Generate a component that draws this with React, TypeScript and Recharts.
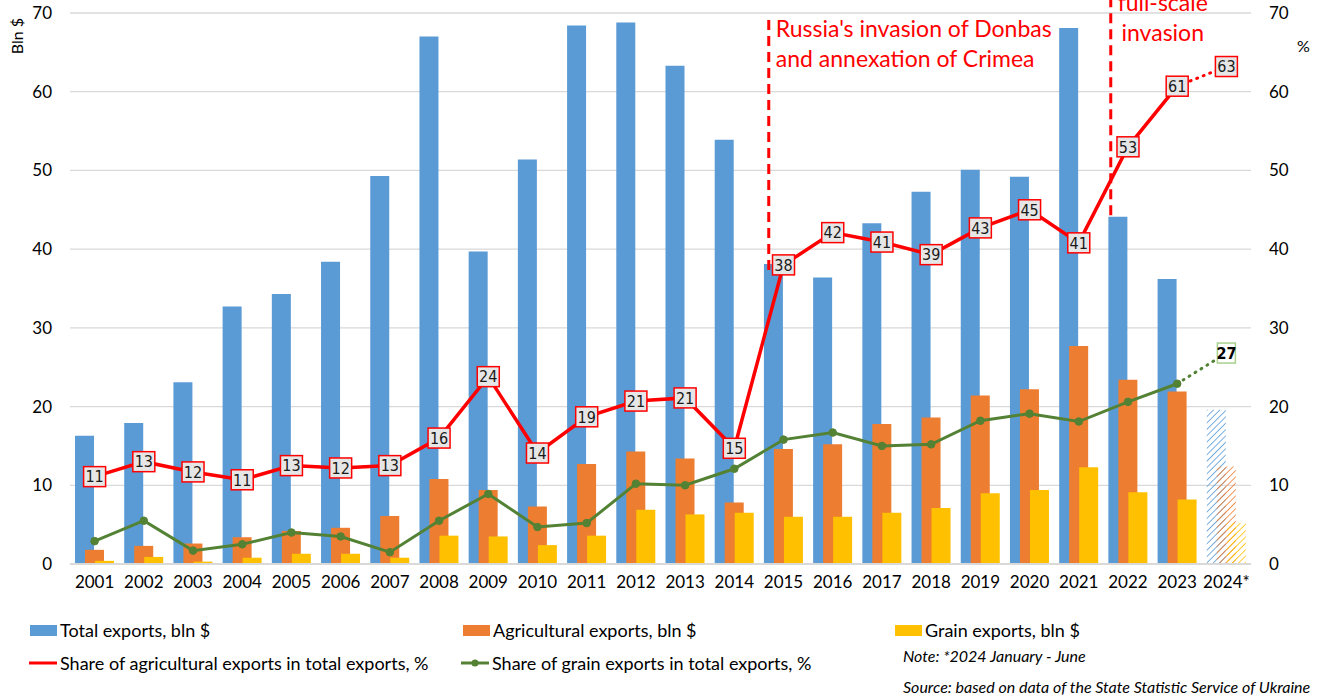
import React from "react";
import {
  Bar,
  CartesianGrid,
  Cell,
  ComposedChart,
  LabelList,
  Line,
  ReferenceLine,
  XAxis,
  YAxis,
} from "recharts";

const YEARS = [
  "2001", "2002", "2003", "2004", "2005", "2006", "2007", "2008", "2009", "2010", "2011", "2012",
  "2013", "2014", "2015", "2016", "2017", "2018", "2019", "2020", "2021", "2022", "2023", "2024*",
];
const TOTAL_EXPORTS = [
  16.3, 17.9, 23.1, 32.7, 34.3, 38.4, 49.3, 67.0, 39.7, 51.4, 68.4, 68.8,
  63.3, 53.9, 38.1, 36.4, 43.3, 47.3, 50.1, 49.2, 68.1, 44.1, 36.2, 19.6,
];
const AGRI_EXPORTS = [
  1.8, 2.3, 2.6, 3.4, 4.2, 4.6, 6.1, 10.8, 9.4, 7.3, 12.7, 14.3,
  13.4, 7.8, 14.6, 15.2, 17.8, 18.6, 21.4, 22.2, 27.7, 23.4, 21.9, 12.4,
];
const GRAIN_EXPORTS = [
  0.4, 0.9, 0.3, 0.8, 1.3, 1.3, 0.8, 3.6, 3.5, 2.4, 3.6, 6.9,
  6.3, 6.5, 6.0, 6.0, 6.5, 7.1, 9.0, 9.4, 12.3, 9.1, 8.2, 5.2,
];
const AGRI_SHARE = [
  11.1, 13.0, 11.7, 10.7, 12.5, 12.2, 12.5, 16.0, 23.8, 14.1, 18.7, 20.7,
  21.1, 14.7, 38.0, 42.1, 40.9, 39.3, 42.7, 45.0, 40.8, 53.0, 60.7, 63.2,
];
const GRAIN_SHARE = [
  2.9, 5.5, 1.7, 2.5, 4.0, 3.5, 1.5, 5.5, 8.9, 4.7, 5.2, 10.2,
  10.0, 12.1, 15.8, 16.7, 15.0, 15.2, 18.2, 19.1, 18.1, 20.6, 22.9, 26.8,
];
const Y_TICKS = [0, 10, 20, 30, 40, 50, 60, 70];

// event markers: position in category units from the left edge, line span in Bln $
const EVENT_POS = [14.2, 21.15];
const EVENT_SPAN = [
  [69.1, 37.0],
  [72.0, 44.3],
];
const EVENT_TEXT = [
  ["Russia's invasion of Donbas", "and annexation of Crimea"],
  ["full-scale", "invasion"],
];

const FONT = "Lato, 'Open Sans', sans-serif";
const NARROW = "'Liberation Sans Narrow', 'DejaVu Sans Condensed', 'Roboto Condensed', sans-serif";

const BLUE = "#5b9bd5";
const ORANGE = "#ed7d31";
const YELLOW = "#ffc000";
const RED = "#ff0000";
const GREEN = "#548235";

const last = YEARS.length - 1;

const data = YEARS.map((year, i) => ({
  year,
  slot: i + 0.5,
  total: TOTAL_EXPORTS[i],
  agri: AGRI_EXPORTS[i],
  grain: GRAIN_EXPORTS[i],
  agriShare: i < last ? AGRI_SHARE[i] : null,
  agriShareEst: i >= last - 1 ? AGRI_SHARE[i] : null,
  grainShare: i < last ? GRAIN_SHARE[i] : null,
  grainShareEst: i >= last - 1 ? GRAIN_SHARE[i] : null,
}));

function RedBox(props: any) {
  const { x, y, value } = props;
  if (value == null || x == null) return null;
  return (
    <g>
      <rect x={x - 11} y={y - 10} width={22} height={20} fill="#e7e6e6" stroke={RED} strokeWidth={1.5} />
      <text
        x={x}
        y={y}
        dy="0.36em"
        textAnchor="middle"
        fontFamily={NARROW}
        fontSize={16}
        fill="#1a1a1a"
      >
        {Math.round(value)}
      </text>
    </g>
  );
}

function RedBoxEst(props: any) {
  if (props.index !== last) return null;
  return <RedBox {...props} />;
}

function GreenBoxEst(props: any) {
  const { x, y, value, index } = props;
  if (index !== last || value == null) return null;
  return (
    <g>
      <rect x={x - 9} y={y - 10} width={18} height={20} fill="#fff" stroke="#a9d18e" strokeWidth={1.5} />
      <text
        x={x}
        y={y}
        dy="0.36em"
        textAnchor="middle"
        fontFamily={NARROW}
        fontSize={16}
        fontWeight="bold"
        fill="#000"
      >
        {Math.round(value)}
      </text>
    </g>
  );
}

function eventLabel(i: number) {
  return (props: any) => {
    const vb = props.viewBox || {};
    const lines = EVENT_TEXT[i];
    const first = i === 0;
    const tx = first ? vb.x + 7 : vb.x + 52;
    return (
      <text
        x={tx}
        y={first ? 37 : 11}
        textAnchor={first ? "start" : "middle"}
        fontFamily={FONT}
        fontSize={23}
        fill={RED}
      >
        {lines.map((t, k) => (
          <tspan key={k} x={tx} dy={k === 0 ? 0 : 29.5}>
            {t}
          </tspan>
        ))}
      </text>
    );
  };
}

const tickStyle = { fontSize: 17, fill: "#000", fontFamily: FONT };

function LegendSwatch({ color, w = 27 }: { color: string; w?: number }) {
  return <span style={{ display: "inline-block", width: w, height: 11, background: color, marginRight: 3 }} />;
}

function LegendLine({ color, dot }: { color: string; dot?: boolean }) {
  return (
    <svg width={28} height={10} style={{ marginRight: 3 }}>
      <line x1={0} y1={5} x2={28} y2={5} stroke={color} strokeWidth={3} />
      {dot && <circle cx={14} cy={5} r={3.5} fill={color} />}
    </svg>
  );
}

const legendItem: React.CSSProperties = {
  position: "absolute",
  display: "flex",
  alignItems: "center",
  fontFamily: FONT,
  fontSize: 18,
  color: "#000",
  whiteSpace: "nowrap",
};

export default function App() {
  return (
    <div style={{ position: "relative", width: 1325, height: 700, background: "#fff", overflow: "hidden" }}>
      <style>{"body{margin:0}"}</style>
      <ComposedChart
        width={1325}
        height={700}
        data={data}
        margin={{ top: 13, right: 0, bottom: 106, left: 0 }}
        barSize={19}
        barGap={-9}
      >
        <defs>
          <pattern id="hatchBlue" width="4.5" height="4.5" patternUnits="userSpaceOnUse" patternTransform="rotate(45)">
            <line x1="0" y1="0" x2="0" y2="4.5" stroke={BLUE} strokeWidth="1.6" />
          </pattern>
          <pattern id="hatchOrange" width="4.5" height="4.5" patternUnits="userSpaceOnUse" patternTransform="rotate(45)">
            <line x1="0" y1="0" x2="0" y2="4.5" stroke={ORANGE} strokeWidth="1.6" />
          </pattern>
          <pattern id="hatchYellow" width="4.5" height="4.5" patternUnits="userSpaceOnUse" patternTransform="rotate(45)">
            <line x1="0" y1="0" x2="0" y2="4.5" stroke={YELLOW} strokeWidth="1.6" />
          </pattern>
        </defs>
        <CartesianGrid yAxisId="left" stroke="#d9d9d9" strokeWidth={1.3} vertical={false} />
        <XAxis
          dataKey="year"
          height={30}
          tick={tickStyle}
          tickLine={false}
          axisLine={{ stroke: "#d9d9d9", strokeWidth: 2 }}
          interval={0}
          tickMargin={6}
        />
        <XAxis xAxisId="pos" dataKey="slot" type="number" domain={[0, 24]} hide allowDataOverflow />
        <YAxis
          yAxisId="left"
          width={70}
          domain={[0, 70]}
          ticks={Y_TICKS}
          tick={tickStyle}
          tickLine={false}
          axisLine={false}
          tickMargin={12}
        />
        <YAxis
          yAxisId="right"
          orientation="right"
          width={74}
          domain={[0, 70]}
          ticks={Y_TICKS}
          tick={{ ...tickStyle, textAnchor: "start" }}
          tickLine={false}
          axisLine={false}
          tickMargin={12}
        />
        <Bar yAxisId="left" dataKey="total" fill={BLUE} isAnimationActive={false}>
          {data.map((d, i) => (
            <Cell key={d.year} fill={i === last ? "url(#hatchBlue)" : BLUE} />
          ))}
        </Bar>
        <Bar yAxisId="left" dataKey="agri" fill={ORANGE} isAnimationActive={false}>
          {data.map((d, i) => (
            <Cell key={d.year} fill={i === last ? "url(#hatchOrange)" : ORANGE} />
          ))}
        </Bar>
        <Bar yAxisId="left" dataKey="grain" fill={YELLOW} isAnimationActive={false}>
          {data.map((d, i) => (
            <Cell key={d.year} fill={i === last ? "url(#hatchYellow)" : YELLOW} />
          ))}
        </Bar>
        {EVENT_POS.map((pos, i) => (
          <ReferenceLine
            key={i}
            xAxisId="pos"
            yAxisId="left"
            segment={[
              { x: pos, y: EVENT_SPAN[i][0] },
              { x: pos, y: EVENT_SPAN[i][1] },
            ]}
            stroke={RED}
            strokeWidth={3}
            strokeDasharray="10 6"
            ifOverflow="visible"
            label={eventLabel(i)}
          />
        ))}
        <Line
          yAxisId="right"
          dataKey="grainShareEst"
          stroke={GREEN}
          strokeWidth={3}
          strokeDasharray="1 6"
          strokeLinecap="round"
          dot={false}
          isAnimationActive={false}
        >
          <LabelList dataKey="grainShareEst" content={GreenBoxEst} />
        </Line>
        <Line
          yAxisId="right"
          dataKey="grainShare"
          stroke={GREEN}
          strokeWidth={3}
          dot={{ r: 3.8, fill: GREEN, stroke: GREEN, strokeWidth: 1 }}
          isAnimationActive={false}
        />
        <Line
          yAxisId="right"
          dataKey="agriShareEst"
          stroke={RED}
          strokeWidth={3}
          strokeDasharray="1 6"
          strokeLinecap="round"
          dot={false}
          isAnimationActive={false}
        >
          <LabelList dataKey="agriShareEst" content={RedBoxEst} />
        </Line>
        <Line
          yAxisId="right"
          dataKey="agriShare"
          stroke={RED}
          strokeWidth={3.5}
          dot={false}
          isAnimationActive={false}
        >
          <LabelList dataKey="agriShare" content={RedBox} />
        </Line>
      </ComposedChart>

      <div
        style={{
          position: "absolute",
          left: 7,
          top: 36,
          transform: "translate(-50%, -50%) rotate(-90deg)",
          transformOrigin: "center",
          marginLeft: 9,
          fontFamily: FONT,
          fontSize: 16,
          whiteSpace: "nowrap",
        }}
      >
        Bln $
      </div>
      <div style={{ position: "absolute", left: 1297, top: 36, fontFamily: FONT, fontSize: 16 }}>%</div>

      <div style={{ ...legendItem, left: 30, top: 619 }}>
        <LegendSwatch color={BLUE} />
        Total exports, bln $
      </div>
      <div style={{ ...legendItem, left: 463, top: 619 }}>
        <LegendSwatch color={ORANGE} />
        Agricultural exports, bln $
      </div>
      <div style={{ ...legendItem, left: 895, top: 619 }}>
        <LegendSwatch color={YELLOW} />
        Grain exports, bln $
      </div>
      <div style={{ ...legendItem, left: 29, top: 652 }}>
        <LegendLine color={RED} />
        Share of agricultural exports in total exports, %
      </div>
      <div style={{ ...legendItem, left: 461, top: 652 }}>
        <LegendLine color={GREEN} dot />
        Share of grain exports in total exports, %
      </div>
      <div style={{ ...legendItem, left: 903, top: 646, fontSize: 16, fontStyle: "italic" }}>
        Note: *2024 January - June
      </div>
      <div style={{ ...legendItem, left: 903, top: 677, fontSize: 16, fontStyle: "italic" }}>
        Source: based on data of the State Statistic Service of Ukraine
      </div>
    </div>
  );
}
